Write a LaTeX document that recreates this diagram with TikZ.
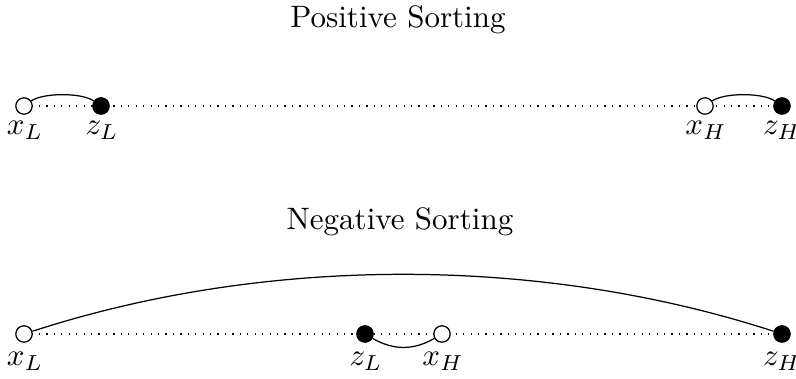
\documentclass[tikz,border=0pt]{standalone}
\begin{document}
\begin{tikzpicture}[x=0.3225pt,y=0.3225pt,
  wdot/.style={circle,draw,fill=white,inner sep=0pt,minimum size=5.3pt},
  bdot/.style={circle,draw,fill=black,inner sep=0pt,minimum size=5.3pt},
  lab/.style={inner sep=0pt,anchor=base},
  title/.style={inner sep=0pt,anchor=base}]
\useasboundingbox (0,0) rectangle (796,379);
% titles
\node[title] (t1) at (398,352) {Positive Sorting};
\node[title] (t2) at (400,149) {Negative Sorting};
% top row
\coordinate (ts) at (24,273);
\coordinate (te) at (782,273);
\draw[dotted] (ts) -- (te);
\node[wdot] (xL1) at (24,273) {};
\node[bdot] (zL1) at (101,273) {};
\node[wdot] (xH1) at (705,273) {};
\node[bdot] (zH1) at (782,273) {};
\draw (xL1) to[out=35,in=145,looseness=0.6] (zL1);
\draw (xH1) to[out=35,in=145,looseness=0.6] (zH1);
\node[lab] (lxL1) at (25,244) {$x_L$};
\node[lab] (lzL1) at (102,244) {$z_L$};
\node[lab] (lxH1) at (706,244) {$x_H$};
\node[lab] (lzH1) at (782,244) {$z_H$};
% bottom row
\coordinate (bs) at (24,45);
\coordinate (be) at (782,45);
\draw[dotted] (bs) -- (be);
\node[wdot] (xL2) at (24,45) {};
\node[bdot] (zL2) at (365,45) {};
\node[wdot] (xH2) at (442,45) {};
\node[bdot] (zH2) at (782,45) {};
\draw (xL2) to[out=18,in=162,looseness=0.85] (zH2);
\draw (zL2) to[out=-30,in=-150] (xH2);
\node[lab] (lxL2) at (25,13) {$x_L$};
\node[lab] (lzL2) at (366,13) {$z_L$};
\node[lab] (lxH2) at (443,13) {$x_H$};
\node[lab] (lzH2) at (782,13) {$z_H$};
\end{tikzpicture}
\end{document}
